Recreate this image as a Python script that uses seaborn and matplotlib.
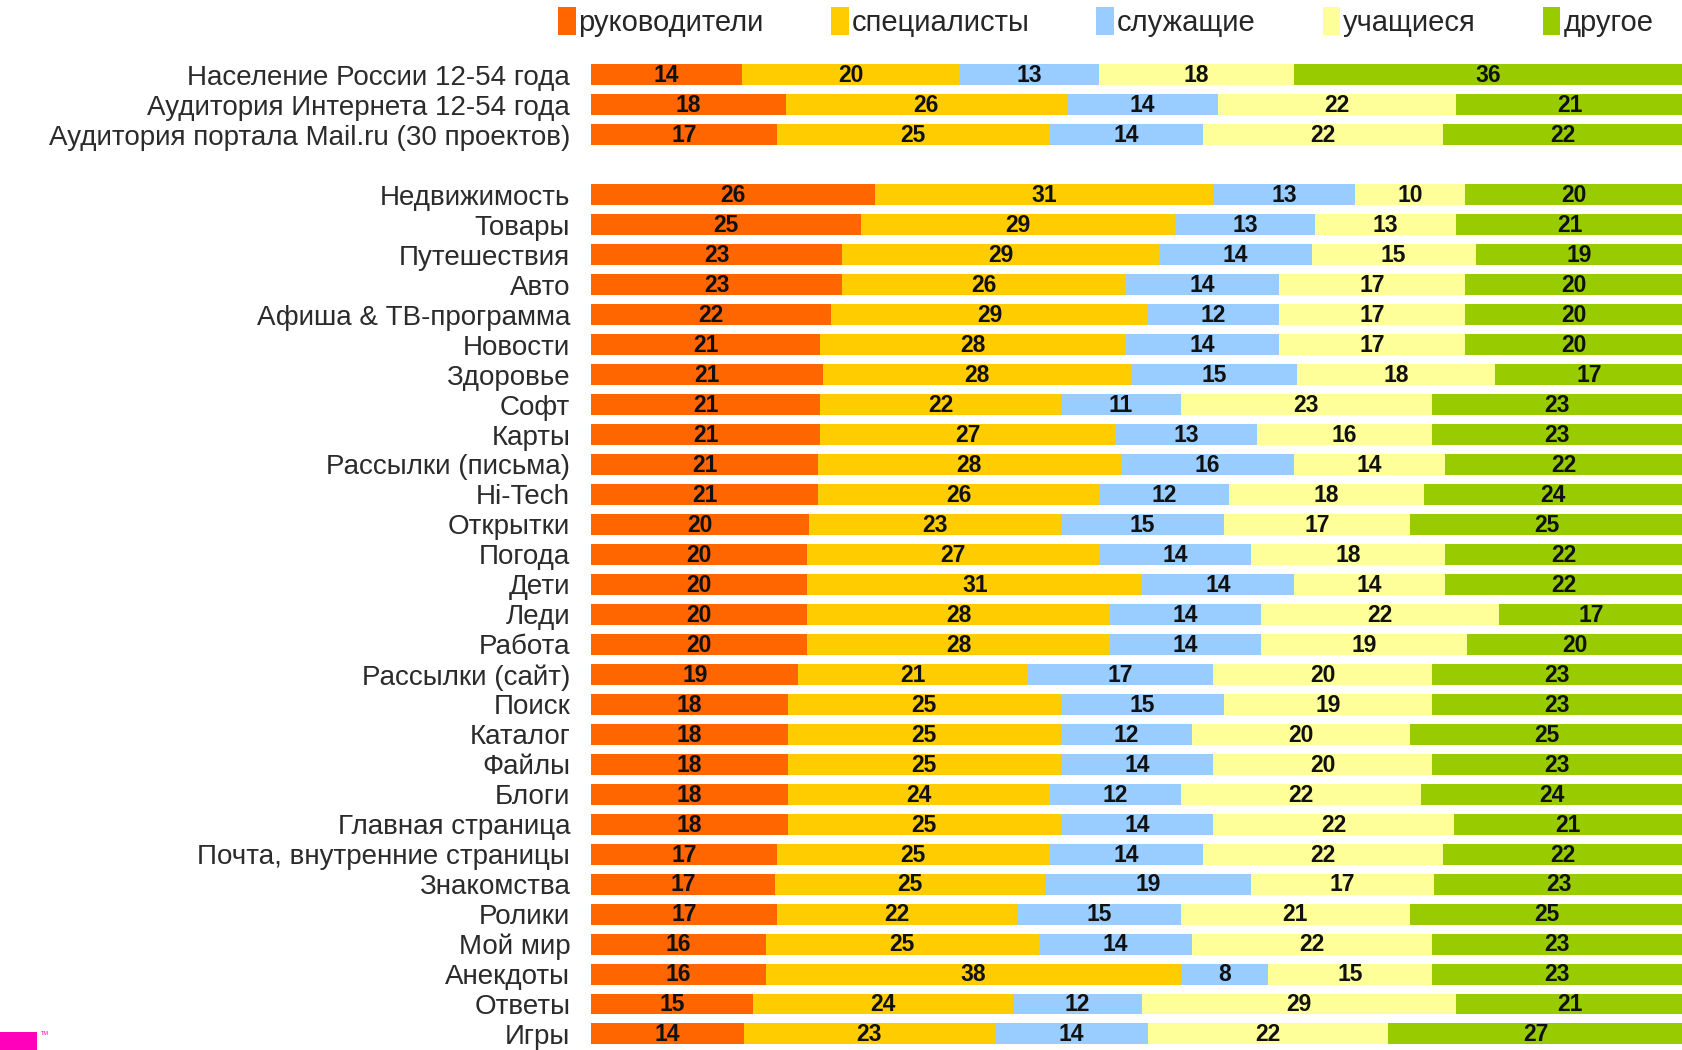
import pandas as pd
import matplotlib.pyplot as plt
import seaborn as sns
from matplotlib.patches import Patch, Rectangle

# Data (shares in %, as printed on the chart)
groups = ["руководители", "специалисты", "служащие", "учащиеся", "другое"]
colors = ["#ff6600", "#ffcc00", "#99ccff", "#ffff99", "#99cc00"]

labels = [
    "Население России 12-54 года",
    "Аудитория Интернета 12-54 года",
    "Аудитория портала Mail.ru (30 проектов)",
    "",
    "Недвижимость", "Товары", "Путешествия", "Авто", "Афиша & ТВ-программа",
    "Новости", "Здоровье", "Софт", "Карты", "Рассылки (письма)", "Hi-Tech",
    "Открытки", "Погода", "Дети", "Леди", "Работа", "Рассылки (сайт)",
    "Поиск", "Каталог", "Файлы", "Блоги", "Главная страница",
    "Почта, внутренние страницы", "Знакомства", "Ролики", "Мой мир",
    "Анекдоты", "Ответы", "Игры",
]

rukovoditeli = [14, 18, 17, None, 26, 25, 23, 23, 22, 21, 21, 21, 21, 21, 21, 20, 20, 20, 20, 20, 19, 18, 18, 18, 18, 18, 17, 17, 17, 16, 16, 15, 14]
spetsialisty = [20, 26, 25, None, 31, 29, 29, 26, 29, 28, 28, 22, 27, 28, 26, 23, 27, 31, 28, 28, 21, 25, 25, 25, 24, 25, 25, 25, 22, 25, 38, 24, 23]
sluzhashchie = [13, 14, 14, None, 13, 13, 14, 14, 12, 14, 15, 11, 13, 16, 12, 15, 14, 14, 14, 14, 17, 15, 12, 14, 12, 14, 14, 19, 15, 14, 8, 12, 14]
uchashchiesya = [18, 22, 22, None, 10, 13, 15, 17, 17, 17, 18, 23, 16, 14, 18, 17, 18, 14, 22, 19, 20, 19, 20, 20, 22, 22, 22, 17, 21, 22, 15, 29, 22]
drugoe = [36, 21, 22, None, 20, 21, 19, 20, 20, 20, 17, 23, 23, 22, 24, 25, 22, 22, 17, 20, 23, 23, 25, 23, 24, 21, 22, 23, 25, 23, 23, 21, 27]

df = pd.DataFrame({"label": labels, "руководители": rukovoditeli,
                   "специалисты": spetsialisty, "служащие": sluzhashchie,
                   "учащиеся": uchashchiesya, "другое": drugoe})
df["label"] = [l if l else " " for l in df["label"]]
vals = df[groups].fillna(0)
total = vals.sum(axis=1).replace(0, 1)
share = vals.div(total, axis=0) * 100
cum = share.cumsum(axis=1)

sns.set_style("white")
plt.rcParams["font.family"] = ["Liberation Sans", "DejaVu Sans"]
narrow = ["Liberation Sans Narrow", "Liberation Sans", "DejaVu Sans"]

fig = plt.figure(figsize=(16.83, 10.5), dpi=100)
ax = fig.add_axes([591 / 1683, 0.001, 1 - 591 / 1683, 0.942])

order = list(df["label"])
# stacked bars: draw cumulative totals from the widest one down
for g, c in reversed(list(zip(groups, colors))):
    sns.barplot(x=cum[g], y=df["label"], order=order, color=c, width=0.7,
                errorbar=None, orient="h", linewidth=0, saturation=1, ax=ax)

for i in range(len(df)):
    if labels[i] == "":
        continue
    for g in groups:
        mid = cum.loc[i, g] - share.loc[i, g] / 2
        ax.text(mid, i + 0.03, str(int(df.loc[i, g])), ha="center", va="center",
                fontsize=16.5, fontweight="bold", color="#111111", family=narrow)

ax.set_xlim(0, 100)
ax.set_ylim(len(df) - 0.5, -0.5)
ax.set_xlabel("")
ax.set_ylabel("")
ax.set_xticks([])
ax.tick_params(axis="y", length=0, pad=15)
for t in ax.get_yticklabels():
    t.set_fontsize(20)
    t.set_color("#2b2b2b")
sns.despine(ax=ax, left=True, bottom=True)

handles = [Patch(facecolor=c, edgecolor="none") for c in colors]
fig.legend(handles, groups, loc="center", bbox_to_anchor=(0.657, 0.979), ncol=5,
           frameon=False, handlelength=0.6, handleheight=1.1, handletextpad=0.1,
           columnspacing=2.3, prop={"family": narrow, "size": 21})

# pink logo fragment in the bottom-left corner
fig.patches.append(Rectangle((0, 0), 37 / 1683, 18 / 1050, transform=fig.transFigure,
                             facecolor="#ff00bb", edgecolor="none"))
fig.text(41 / 1683, 15 / 1050, "TM", fontsize=4, color="#ff00bb")

fig.savefig("out.png", dpi=100)
